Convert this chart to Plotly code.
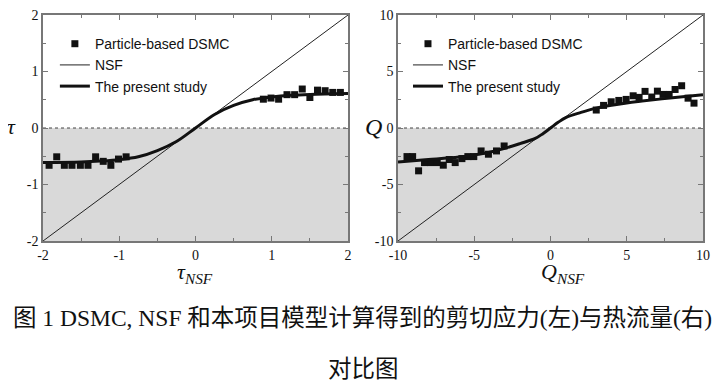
import plotly.graph_objects as go

# ---------------- data ----------------
tau_dsmc_x = [-1.92, -1.82, -1.72, -1.62, -1.51, -1.41, -1.31, -1.21, -1.11, -1.01, -0.91,
              0.89, 0.99, 1.09, 1.20, 1.30, 1.40, 1.50, 1.60, 1.70, 1.80, 1.90]
tau_dsmc_y = [-0.66, -0.51, -0.66, -0.66, -0.66, -0.66, -0.51, -0.59, -0.66, -0.55, -0.51,
              0.51, 0.53, 0.51, 0.59, 0.59, 0.69, 0.54, 0.67, 0.66, 0.63, 0.63]
tau_nsf_x = [-2, 2]
tau_nsf_y = [-2, 2]
tau_model_x = [-2, -1.5, -1.25, -1.0, -0.75, -0.5, -0.25, 0, 0.25, 0.5, 0.75, 1.0, 1.25, 1.5, 2]
tau_model_y = [-0.61, -0.60, -0.585, -0.56, -0.51, -0.40, -0.24, 0, 0.24, 0.40, 0.50, 0.55, 0.58, 0.595, 0.61]

q_dsmc_x = [-9.41, -9.04, -8.65, -8.26, -7.86, -7.43, -7.03, -6.64, -6.25, -5.81, -5.42, -5.03,
            -4.55, -4.07, -3.54, -3.04,
            3.00, 3.48, 3.98, 4.48, 4.96, 5.42, 5.81, 6.20, 6.64, 7.01, 7.38, 7.78, 8.17, 8.60,
            9.02, 9.41]
q_dsmc_y = [-2.53, -2.53, -3.79, -3.06, -3.06, -3.06, -3.29, -2.79, -3.06, -2.71, -2.53, -2.53,
            -2.03, -2.32, -2.03, -1.59,
            1.59, 2.00, 2.32, 2.44, 2.53, 2.85, 2.71, 3.24, 2.74, 3.26, 2.97, 2.97, 3.41, 3.74,
            2.64, 2.20]
q_nsf_x = [-10, 10]
q_nsf_y = [-10, 10]
q_model_x = [-10, -8, -6, -5, -4, -3, -2, -1, -0.5, 0, 0.5, 1, 2, 3, 4, 5, 6, 8, 10]
q_model_y = [-3.0, -2.79, -2.56, -2.38, -2.14, -1.80, -1.38, -0.92, -0.5, 0, 0.5, 0.92, 1.38, 1.76, 2.02, 2.22, 2.38, 2.68, 2.95]

tau_ticks = [-2, -1, 0, 1, 2]
tau_ticktext = ["-2", "-1", "0", "1", "2"]
q_ticks = [-10, -5, 0, 5, 10]
q_ticktext = ["-10", "-5", "0", "5", "10"]

legend_names = ["Particle-based DSMC", "NSF", "The present study"]
caption_line1 = "图 1 DSMC, NSF 和本项目模型计算得到的剪切应力(左)与热流量(右)"
caption_line2 = "对比图"

# ---------------- figure ----------------
fig = go.Figure()

def add_panel(xa, ya, legend, dx, dy, nx, ny, mx, my):
    fig.add_trace(go.Scatter(x=dx, y=dy, mode="markers", name=legend_names[0],
                             marker=dict(symbol="square", size=7, color="#111111"),
                             xaxis=xa, yaxis=ya, legend=legend))
    fig.add_trace(go.Scatter(x=nx, y=ny, mode="lines", name=legend_names[1],
                             line=dict(color="#222222", width=1),
                             xaxis=xa, yaxis=ya, legend=legend))
    fig.add_trace(go.Scatter(x=mx, y=my, mode="lines", name=legend_names[2],
                             line=dict(color="#111111", width=3, shape="spline"),
                             xaxis=xa, yaxis=ya, legend=legend))

add_panel("x", "y", "legend", tau_dsmc_x, tau_dsmc_y, tau_nsf_x, tau_nsf_y, tau_model_x, tau_model_y)
add_panel("x2", "y2", "legend2", q_dsmc_x, q_dsmc_y, q_nsf_x, q_nsf_y, q_model_x, q_model_y)

tickfont = dict(family="Liberation Serif, Times New Roman, serif", size=14, color="#111111")
axis_common = dict(showgrid=False, zeroline=False, showline=True, linecolor="#777777", linewidth=1.5,
                   mirror="allticks", ticks="inside", ticklen=5, tickcolor="#777777", tickwidth=1,
                   tickfont=tickfont, automargin=False, ticklabeloverflow="allow",
                   minor=dict(ticks="inside", ticklen=3, tickcolor="#777777", tickwidth=1))

left_dom = [0, 305 / 660]
right_dom = [355 / 660, 1]

fig.update_layout(
    xaxis=dict(domain=left_dom, range=[-2, 2], tickvals=tau_ticks, ticktext=tau_ticktext,
               anchor="y", **axis_common),
    yaxis=dict(domain=[0, 1], range=[-2, 2], tickvals=tau_ticks, ticktext=tau_ticktext,
               anchor="x", **axis_common),
    xaxis2=dict(domain=right_dom, range=[-10, 10], tickvals=q_ticks, ticktext=q_ticktext,
                anchor="y2", **axis_common),
    yaxis2=dict(domain=[0, 1], range=[-10, 10], tickvals=q_ticks, ticktext=q_ticktext,
                anchor="x2", **axis_common),
)
fig.layout.xaxis.minor.tickvals = [-1.5, -0.5, 0.5, 1.5]
fig.layout.yaxis.minor.tickvals = [-1.5, -0.5, 0.5, 1.5]
fig.layout.xaxis2.minor.tickvals = [-7.5, -2.5, 2.5, 7.5]
fig.layout.yaxis2.minor.tickvals = [-7.5, -2.5, 2.5, 7.5]

# gray shading below zero and dashed zero line
for xr, yr, x0, x1, y0 in [("x", "y", -2, 2, -2), ("x2", "y2", -10, 10, -10)]:
    fig.add_shape(type="rect", xref=xr, yref=yr, x0=x0, x1=x1, y0=y0, y1=0,
                  fillcolor="#d9d9d9", line=dict(width=0), layer="below")
    fig.add_shape(type="line", xref=xr, yref=yr, x0=x0, x1=x1, y0=0, y1=0,
                  line=dict(color="#444444", width=1, dash="dot"), layer="below")

legend_style = dict(font=dict(family="Liberation Sans, Arial, sans-serif", size=14, color="#111111"),
                    bgcolor="rgba(0,0,0,0)", borderwidth=0, xanchor="left", yanchor="top",
                    itemwidth=30, tracegroupgap=0)
fig.update_layout(
    legend=dict(x=0.018, y=0.942, **legend_style),
    legend2=dict(x=0.553, y=0.942, **legend_style),
)

serif_it = dict(family="Liberation Serif, Times New Roman, serif", color="#111111")
cap_font = dict(family="Liberation Serif, Noto Sans CJK SC, serif", size=23.5, color="#111111")
ann = [
    dict(x=-0.047, y=0.505, text="<i>τ</i>", font=dict(size=22, **serif_it)),
    dict(x=0.23, y=-0.14, text="<i>τ<sub>NSF</sub></i>", font=dict(size=22, **serif_it)),
    dict(x=0.501, y=0.505, text="<i>Q</i>", font=dict(size=24, **serif_it)),
    dict(x=0.788, y=-0.14, text="<i>Q<sub>NSF</sub></i>", font=dict(size=22, **serif_it)),
    dict(x=0.484, y=-0.339, text=caption_line1, font=cap_font),
    dict(x=0.486, y=-0.568, text=caption_line2, font=cap_font),
]
for a in ann:
    fig.add_annotation(xref="paper", yref="paper", showarrow=False, xanchor="center", yanchor="middle", **a)

# margins compensate for the 8px default page offset
fig.update_layout(width=726, height=386, margin=dict(l=35, r=31, t=7, b=153, autoexpand=False),
                  paper_bgcolor="white", plot_bgcolor="white", showlegend=True)

fig.write_html("out.html")
